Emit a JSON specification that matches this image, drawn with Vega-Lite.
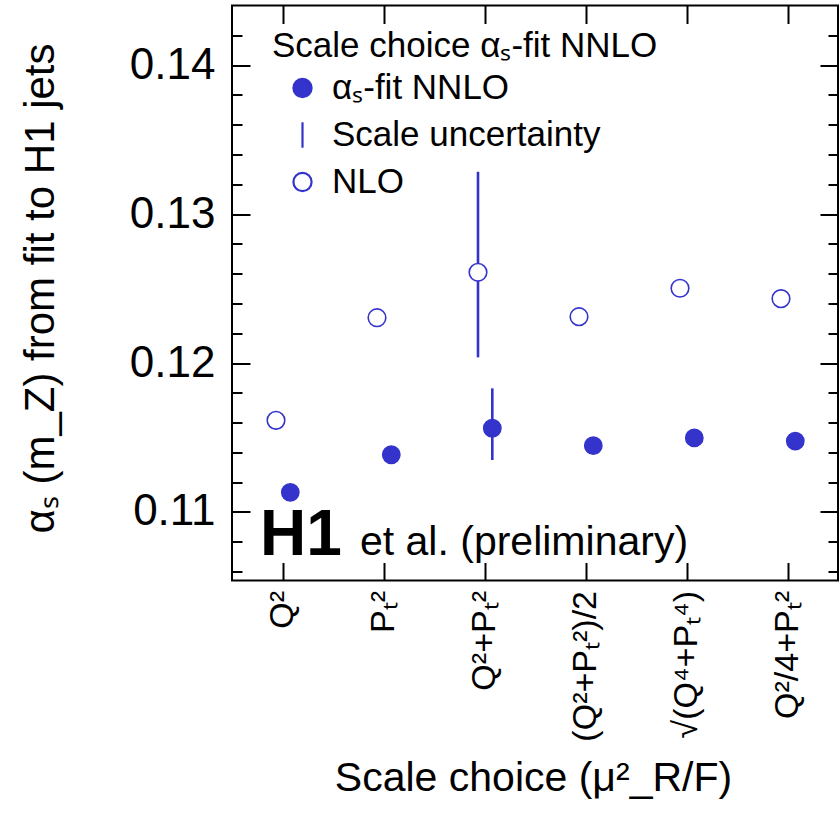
{
  "$schema": "https://vega.github.io/schema/vega-lite/v6.json",
  "width": 606,
  "height": 575,
  "autosize": "none",
  "padding": {"left": 232, "top": 5.5, "right": 2, "bottom": 235.5},
  "background": "white",
  "datasets": {
    "pts": [
      {"scale": 1, "series": "NLO", "alpha": 0.11615},
      {"scale": 2, "series": "NLO", "alpha": 0.12304},
      {"scale": 3, "series": "NLO", "alpha": 0.12609, "lo": 0.12038, "hi": 0.13284},
      {"scale": 4, "series": "NLO", "alpha": 0.12311},
      {"scale": 5, "series": "NLO", "alpha": 0.12502},
      {"scale": 6, "series": "NLO", "alpha": 0.12432},
      {"scale": 1, "series": "αₛ-fit NNLO", "alpha": 0.11132},
      {"scale": 2, "series": "αₛ-fit NNLO", "alpha": 0.11384},
      {"scale": 3, "series": "αₛ-fit NNLO", "alpha": 0.11562, "lo": 0.11349, "hi": 0.1183},
      {"scale": 4, "series": "αₛ-fit NNLO", "alpha": 0.11445},
      {"scale": 5, "series": "αₛ-fit NNLO", "alpha": 0.11497},
      {"scale": 6, "series": "αₛ-fit NNLO", "alpha": 0.11476}
    ],
    "notes": [
      {"scale": 0.777, "alpha": 0.10713, "text": "H1", "kind": "logo"},
      {"scale": 1.767, "alpha": 0.10713, "text": "et al. (preliminary)", "kind": "sub"}
    ]
  },
  "layer": [
    {
      "data": {"name": "pts"},
      "transform": [{"filter": "datum.series == 'NLO' && isValid(datum.lo)"}],
      "mark": {"type": "rule", "color": "#3434cc", "strokeWidth": 2.6, "xOffset": -6.5},
      "encoding": {
        "x": {"field": "scale", "type": "quantitative", "axis": null},
        "y": {"field": "lo", "type": "quantitative", "axis": null},
        "y2": {"field": "hi"}
      }
    },
    {
      "data": {"name": "pts"},
      "transform": [{"filter": "datum.series != 'NLO' && isValid(datum.lo)"}],
      "mark": {"type": "rule", "color": "#3434cc", "strokeWidth": 2.6, "xOffset": 7.8},
      "encoding": {
        "x": {"field": "scale", "type": "quantitative", "axis": null},
        "y": {"field": "lo", "type": "quantitative", "axis": null},
        "y2": {"field": "hi"}
      }
    },
    {
      "data": {"name": "notes"},
      "transform": [{"filter": "datum.kind == 'logo'"}],
      "mark": {"type": "text", "align": "left", "baseline": "alphabetic", "font": "Liberation Sans", "fontSize": 64, "fontWeight": "bold", "color": "black"},
      "encoding": {
        "x": {"field": "scale", "type": "quantitative", "axis": null},
        "y": {"field": "alpha", "type": "quantitative", "axis": null},
        "text": {"field": "text"}
      }
    },
    {
      "data": {"name": "notes"},
      "transform": [{"filter": "datum.kind == 'sub'"}],
      "mark": {"type": "text", "align": "left", "baseline": "alphabetic", "font": "Liberation Sans", "fontSize": 41, "color": "black"},
      "encoding": {
        "x": {"field": "scale", "type": "quantitative", "axis": null},
        "y": {"field": "alpha", "type": "quantitative", "axis": null},
        "text": {"field": "text"}
      }
    },
    {
      "data": {"name": "pts"},
      "transform": [{"filter": "datum.series == 'NLO'"}],
      "mark": {"type": "point", "size": 310, "strokeWidth": 1.6, "opacity": 1, "xOffset": -6.5},
      "encoding": {
        "x": {
          "field": "scale",
          "type": "quantitative",
          "scale": {"domain": [0.5, 6.5], "nice": false, "zero": false},
          "axis": {
            "orient": "bottom",
            "values": [1, 2, 3, 4, 5, 6],
            "tickSize": -18,
            "labelAngle": 270,
            "labelFontSize": 34,
            "labelPadding": 28,
            "labelExpr": "['', 'Q²', 'Pₜ²', 'Q²+Pₜ²', '(Q²+Pₜ²)/2', '√(Q⁴+Pₜ⁴)', 'Q²/4+Pₜ²'][datum.value]",
            "title": "Scale choice (μ²_R/F)",
            "titleFontSize": 41,
            "titleAlign": "center",
            "titleBaseline": "alphabetic",
            "titleX": 301,
            "titleY": 209.5
          }
        },
        "y": {
          "field": "alpha",
          "type": "quantitative",
          "scale": {"domain": [0.1054, 0.144], "nice": false, "zero": false},
          "axis": {
            "orient": "left",
            "values": [0.106, 0.108, 0.11, 0.112, 0.114, 0.116, 0.118, 0.12, 0.122, 0.124, 0.126, 0.128, 0.13, 0.132, 0.134, 0.136, 0.138, 0.14, 0.142],
            "tickSize": {"condition": {"test": "abs(datum.value * 100 - round(datum.value * 100)) < 0.000001", "value": -18}, "value": -10},
            "labelExpr": "abs(datum.value * 100 - round(datum.value * 100)) < 0.000001 ? format(datum.value, '.2f') : ''",
            "labelFontSize": 44,
            "labelPadding": 35,
            "title": "αₛ (m_Z) from fit to H1 jets",
            "titleFontSize": 42,
            "titleAngle": 270,
            "titleAlign": "center",
            "titleBaseline": "alphabetic",
            "titleX": -179,
            "titleY": 282.5
          }
        },
        "shape": {
          "field": "series",
          "type": "nominal",
          "title": "Scale choice αₛ-fit NNLO",
          "scale": {"domain": ["αₛ-fit NNLO", "Scale uncertainty", "NLO"], "range": ["circle", "M0,-1.4L0,1.4", "circle"]},
          "legend": {
            "orient": "none",
            "legendX": 40,
            "legendY": 23,
            "padding": 0,
            "symbolOffset": 13,
            "labelOffset": 12,
            "rowPadding": 11,
            "titlePadding": 7
          }
        },
        "fill": {
          "field": "series",
          "type": "nominal",
          "title": "Scale choice αₛ-fit NNLO",
          "scale": {"domain": ["αₛ-fit NNLO", "Scale uncertainty", "NLO"], "range": ["#3434cc", "#3434cc", "#ffffff"]}
        },
        "stroke": {
          "field": "series",
          "type": "nominal",
          "title": "Scale choice αₛ-fit NNLO",
          "scale": {"domain": ["αₛ-fit NNLO", "Scale uncertainty", "NLO"], "range": ["#3434cc", "#3434cc", "#3434cc"]}
        }
      }
    },
    {
      "data": {"name": "pts"},
      "transform": [{"filter": "datum.series != 'NLO'"}],
      "mark": {"type": "point", "size": 300, "strokeWidth": 1.5, "opacity": 1, "xOffset": 7.8},
      "encoding": {
        "x": {"field": "scale", "type": "quantitative", "axis": null},
        "y": {"field": "alpha", "type": "quantitative", "axis": null},
        "shape": {"field": "series", "type": "nominal", "title": "Scale choice αₛ-fit NNLO"},
        "fill": {"field": "series", "type": "nominal", "title": "Scale choice αₛ-fit NNLO"},
        "stroke": {"field": "series", "type": "nominal", "title": "Scale choice αₛ-fit NNLO"}
      }
    },
    {
      "data": {"name": "pts"},
      "mark": {"type": "point", "opacity": 0},
      "encoding": {
        "x": {
          "field": "scale",
          "type": "quantitative",
          "axis": {"orient": "top", "values": [1, 2, 3, 4, 5, 6], "tickSize": -18, "labels": false, "title": null}
        },
        "y": {
          "field": "alpha",
          "type": "quantitative",
          "axis": {
            "orient": "right",
            "values": [0.106, 0.108, 0.11, 0.112, 0.114, 0.116, 0.118, 0.12, 0.122, 0.124, 0.126, 0.128, 0.13, 0.132, 0.134, 0.136, 0.138, 0.14, 0.142],
            "tickSize": {"condition": {"test": "abs(datum.value * 100 - round(datum.value * 100)) < 0.000001", "value": -18}, "value": -10},
            "labels": false,
            "title": null
          }
        }
      }
    }
  ],
  "resolve": {"axis": {"x": "independent", "y": "independent"}},
  "config": {
    "font": "Liberation Sans",
    "view": {"stroke": "black", "strokeWidth": 2},
    "axis": {
      "domain": false,
      "grid": false,
      "tickColor": "black",
      "tickWidth": 2,
      "labelColor": "black",
      "titleColor": "black",
      "labelFont": "Liberation Sans",
      "titleFont": "Liberation Sans",
      "titleFontWeight": "normal"
    },
    "legend": {
      "titleFont": "Liberation Sans",
      "titleFontSize": 35,
      "titleFontWeight": "normal",
      "titleColor": "black",
      "titleLimit": 600,
      "labelFont": "Liberation Sans",
      "labelFontSize": 35,
      "labelColor": "black",
      "labelLimit": 600,
      "symbolSize": 330,
      "symbolStrokeWidth": 2.2
    }
  }
}
